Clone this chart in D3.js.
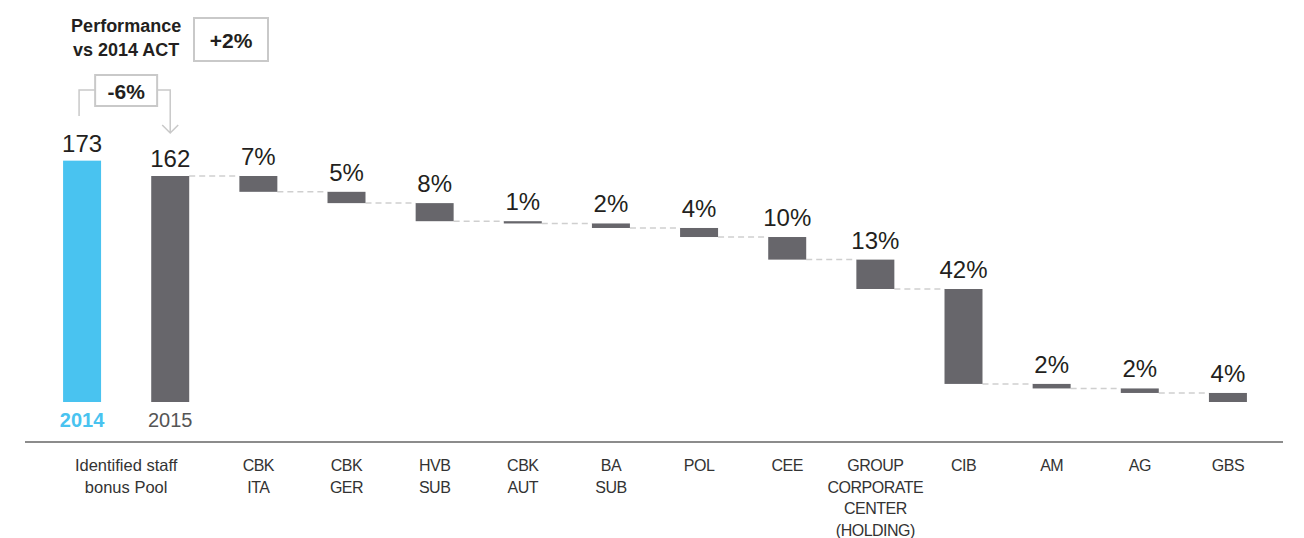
<!DOCTYPE html>
<html>
<head>
<meta charset="utf-8">
<script src="https://cdn.jsdelivr.net/npm/d3@7"></script>
<style>
  body { margin: 0; background: #fff; }
  text { font-family: "Liberation Sans", Arial, sans-serif; }
  text.unit { letter-spacing: -0.5px; }
</style>
</head>
<body>
<script>
// bonus pool data (m EUR) and split of 2015 pool by division
var years = ["2014", "2015"];
var pool = [173, 162];
var units = ["CBK\nITA", "CBK\nGER", "HVB\nSUB", "CBK\nAUT", "BA\nSUB", "POL", "CEE",
             "GROUP\nCORPORATE\nCENTER\n(HOLDING)", "CIB", "AM", "AG", "GBS"];
var shares = [7, 5, 8, 1, 2, 4, 10, 13, 42, 2, 2, 4];
var poolLabel = "Identified staff\nbonus Pool";
var perfLabel = ["Performance", "vs 2014 ACT"];
var perfValue = "+2%";
var yoyValue = "-6%";

var width = 1304, height = 538;
var cyan = "#49c3f0", grey = "#67666b", light = "#c9c9c9";

var svg = d3.select("body").append("svg")
    .attr("width", width)
    .attr("height", height);

var keys = years.concat(units);
var pin = 0.569;
var x = d3.scaleBand()
    .domain(keys)
    .range([38, 1272])
    .paddingInner(pin)
    .paddingOuter(pin / 2);

var y = d3.scaleLinear()
    .domain([0, 162])
    .range([402, 176]);

// waterfall steps
var running = pool[1];
var steps = units.map(function(u, i) {
    var v = pool[1] * shares[i] / 100;
    var s = {key: u, share: shares[i], top: running, bottom: running - v};
    running -= v;
    return s;
});

// dashed connectors
var links = [{x1: x(years[1]) + x.bandwidth(), x2: x(units[0]), v: pool[1]}];
steps.forEach(function(s, i) {
    if (i < steps.length - 1)
        links.push({x1: x(s.key) + x.bandwidth(), x2: x(steps[i + 1].key), v: s.bottom});
});
svg.selectAll(".link").data(links).enter().append("line")
    .attr("x1", function(d) { return d.x1; })
    .attr("x2", function(d) { return d.x2; })
    .attr("y1", function(d) { return y(d.v); })
    .attr("y2", function(d) { return y(d.v); })
    .attr("stroke", "#cfcfcf")
    .attr("stroke-width", 1.5)
    .attr("stroke-dasharray", "6,4");

// total bars
svg.selectAll(".total").data(years).enter().append("rect")
    .attr("x", function(d) { return x(d); })
    .attr("width", x.bandwidth())
    .attr("y", function(d, i) { return y(pool[i]); })
    .attr("height", function(d, i) { return y(0) - y(pool[i]); })
    .attr("fill", function(d, i) { return i == 0 ? cyan : grey; });

svg.selectAll(".totlab").data(years).enter().append("text")
    .attr("x", function(d) { return x(d) + x.bandwidth() / 2; })
    .attr("y", function(d, i) { return y(pool[i]) - 9; })
    .attr("text-anchor", "middle")
    .attr("font-size", 24)
    .attr("fill", "#231f20")
    .text(function(d, i) { return pool[i]; });

svg.selectAll(".yearlab").data(years).enter().append("text")
    .attr("x", function(d) { return x(d) + x.bandwidth() / 2; })
    .attr("y", 427)
    .attr("text-anchor", "middle")
    .attr("font-size", 20)
    .attr("font-weight", function(d, i) { return i == 0 ? "bold" : "normal"; })
    .attr("fill", function(d, i) { return i == 0 ? cyan : "#555"; })
    .text(function(d) { return d; });

// division bars
svg.selectAll(".step").data(steps).enter().append("rect")
    .attr("x", function(d) { return x(d.key); })
    .attr("width", x.bandwidth())
    .attr("y", function(d) { return y(d.top); })
    .attr("height", function(d) { return y(d.bottom) - y(d.top); })
    .attr("fill", grey);

svg.selectAll(".steplab").data(steps).enter().append("text")
    .attr("x", function(d) { return x(d.key) + x.bandwidth() / 2; })
    .attr("y", function(d) { return y(d.top) - 11; })
    .attr("text-anchor", "middle")
    .attr("font-size", 24)
    .attr("fill", "#231f20")
    .text(function(d) { return d.share + "%"; });

// baseline
svg.append("line")
    .attr("x1", 25).attr("x2", 1283)
    .attr("y1", 442).attr("y2", 442)
    .attr("stroke", "#8c8c8c")
    .attr("stroke-width", 2);

// category labels
var cats = [{label: poolLabel, cx: (x(years[0]) + x(years[1]) + x.bandwidth()) / 2, unit: false}];
units.forEach(function(u) { cats.push({label: u, cx: x(u) + x.bandwidth() / 2, unit: true}); });
var cat = svg.selectAll(".cat").data(cats).enter().append("text")
    .attr("class", function(d) { return d.unit ? "unit" : "pool"; })
    .attr("text-anchor", "middle")
    .attr("font-size", function(d) { return d.unit ? 16 : 16.5; })
    .attr("fill", "#333");
cat.selectAll("tspan")
    .data(function(d) { return d.label.split("\n").map(function(l) { return {t: l, cx: d.cx}; }); })
    .enter().append("tspan")
    .attr("x", function(d) { return d.cx; })
    .attr("y", function(d, i) { return 471 + i * 21.5; })
    .text(function(d) { return d.t; });

// performance annotation
var c0 = x(years[0]) + x.bandwidth() / 2, c1 = x(years[1]) + x.bandwidth() / 2;
var mid = (c0 + c1) / 2;
svg.selectAll(".perf").data(perfLabel).enter().append("text")
    .attr("x", mid)
    .attr("y", function(d, i) { return 32 + i * 24; })
    .attr("text-anchor", "middle")
    .attr("font-size", 18)
    .attr("font-weight", "bold")
    .attr("fill", "#231f20")
    .text(function(d) { return d; });

svg.append("rect")
    .attr("x", 194).attr("y", 18).attr("width", 74).attr("height", 43)
    .attr("fill", "#fff").attr("stroke", light).attr("stroke-width", 2);
svg.append("text")
    .attr("x", 231).attr("y", 48)
    .attr("text-anchor", "middle")
    .attr("font-size", 21).attr("font-weight", "bold")
    .attr("fill", "#231f20")
    .text(perfValue);

// year on year bracket
var by = 90;
svg.append("path")
    .attr("d", "M" + (c0 - 3) + "," + 116 + "V" + by + "H" + (mid - 31) +
               "M" + (mid + 31) + "," + by + "H" + c1 + "V" + 133 +
               "M" + (c1 - 8) + "," + 125 + "L" + c1 + "," + 133 + "L" + (c1 + 8) + "," + 125)
    .attr("fill", "none")
    .attr("stroke", light)
    .attr("stroke-width", 1.5);
svg.append("rect")
    .attr("x", mid - 31).attr("y", 75).attr("width", 62).attr("height", 31)
    .attr("fill", "#fff").attr("stroke", light).attr("stroke-width", 2);
svg.append("text")
    .attr("x", mid).attr("y", 99)
    .attr("text-anchor", "middle")
    .attr("font-size", 21).attr("font-weight", "bold")
    .attr("fill", "#231f20")
    .text(yoyValue);
</script>
</body>
</html>
